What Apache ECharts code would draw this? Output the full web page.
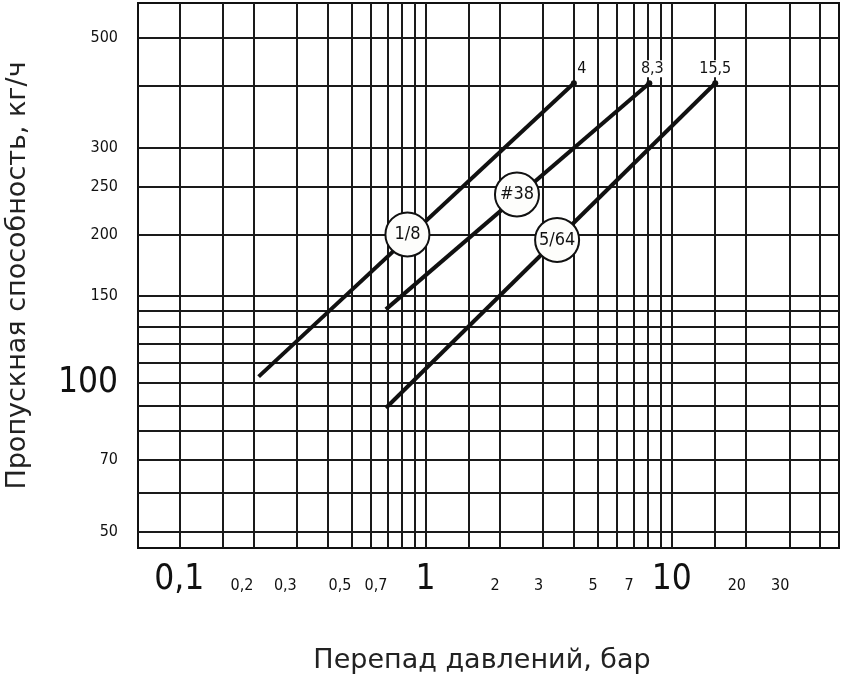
<!DOCTYPE html>
<html><head><meta charset="utf-8">
<script src="https://cdn.jsdelivr.net/npm/echarts@6/dist/echarts.min.js"></script>
<style>html,body{margin:0;padding:0;background:#fff}#c{width:841px;height:681px}</style>
</head><body><div id="c"></div><script>
// ---- data ----
const xGrid = [0.1,0.15,0.2,0.3,0.4,0.5,0.6,0.7,0.8,0.9,1,1.5,2,3,4,5,6,7,8,9,10,15,20,30,40];
const xLabelsBig = [0.1,1,10];
const xLabelsSmall = [0.2,0.3,0.5,0.7,2,3,5,7,20,30];
const yGrid = [50,60,70,80,90,100,110,120,130,140,150,200,250,300,400,500];
const yLabels = [50,70,100,150,200,250,300,500];
const yLabelsBig = [100];
const nozzleNames = ['1/8','#38','5/64'];
const nozzleX = [0.844,2.35,3.42];
const nozzleY = [200,241,195];
const maxDpLabels = ['4','8,3','15,5'];
const line18 = [[0.21,103],[4,405]];
const line38 = [[0.69,141],[8.1,405]];
const line564 = [[0.69,89],[15,405]];
const xTitle = 'Перепад давлений, бар';
const yTitle = 'Пропускная способность, кг/ч';

// ---- chart ----
const NARROW = "'Liberation Sans Narrow','Arial Narrow','DejaVu Sans Condensed',sans-serif";
const TITLEF = "'DejaVu Sans','Noto Sans',sans-serif";
const fmtNum = v => String(v).replace('.', ',');
const X_MIN = 0.068, X_MAX = 47.7, Y_MIN = 46.3, Y_MAX = 589;
const gridLine = {show: true, lineStyle: {color: '#1a1a1a', width: 2}};
const endDx = [8, 3, 0];
const lines = [line18, line38, line564];

const chart = echarts.init(document.getElementById('c'));
const option = {
  animation: false,
  backgroundColor: '#fff',
  grid: {left: 138, right: 2, top: 3, bottom: 133, show: true, borderColor: '#111', borderWidth: 2,
         backgroundColor: 'transparent', containLabel: false, outerBoundsMode: 'none'},
  xAxis: [
    {type: 'log', min: X_MIN, max: X_MAX, position: 'bottom',
     axisLine: {show: false}, axisTick: {show: false, customValues: xGrid},
     splitLine: gridLine, minorTick: {show: false}, minorSplitLine: {show: false},
     axisLabel: {customValues: xLabelsBig, formatter: fmtNum, fontSize: 35, fontFamily: NARROW, color: '#111', margin: 49, verticalAlign: 'bottom'},
     name: xTitle, nameLocation: 'middle', nameGap: 99,
     nameTextStyle: {fontSize: 27, fontFamily: TITLEF, color: '#222', padding: [0, 13, 0, 0]}},
    {type: 'log', min: X_MIN, max: X_MAX, position: 'bottom',
     axisLine: {show: false}, axisTick: {show: false}, splitLine: {show: false},
     axisLabel: {customValues: xLabelsSmall, formatter: fmtNum, fontSize: 16, fontFamily: NARROW, color: '#111', margin: 46, verticalAlign: 'bottom', align: 'right'}}
  ],
  yAxis: {type: 'log', min: Y_MIN, max: Y_MAX,
    axisLine: {show: false}, axisTick: {show: false, customValues: yGrid},
    splitLine: gridLine, minorSplitLine: {show: false},
    axisLabel: {customValues: yLabels, margin: 20,
      formatter: v => yLabelsBig.includes(v) ? '{b|' + v + '}' : '{s|' + v + '}',
      rich: {b: {fontSize: 35, fontFamily: NARROW, color: '#111'}, s: {fontSize: 16, fontFamily: NARROW, color: '#111'}}},
    name: yTitle, nameLocation: 'middle', nameGap: 107,
    nameTextStyle: {fontSize: 27, fontFamily: TITLEF, color: '#222'}},
  series: lines.map((pts, i) => ({
    type: 'line', xAxisIndex: 0, yAxisIndex: 0, z: 3, silent: true,
    symbol: 'circle', showSymbol: true,
    lineStyle: {color: '#111', width: 4}, itemStyle: {color: '#111'},
    data: pts.map((p, j) => j === pts.length - 1
      ? {value: p, symbolSize: 6, label: {show: true, position: 'top', distance: 3, offset: [endDx[i], 0],
          formatter: maxDpLabels[i], fontSize: 16, fontFamily: NARROW, color: '#111', backgroundColor: '#fff', padding: [1, 1, 0, 1]}}
      : {value: p, symbolSize: 0})
  })).concat([{
    type: 'scatter', xAxisIndex: 0, yAxisIndex: 0, z: 5, silent: true,
    symbol: 'circle', symbolSize: 44,
    itemStyle: {color: '#fdfdfb', borderColor: '#111', borderWidth: 2, opacity: 1},
    label: {show: true, position: 'inside', formatter: p => p.name, fontSize: 18, fontFamily: NARROW, color: '#111'},
    data: nozzleNames.map((n, i) => ({name: n, value: [nozzleX[i], nozzleY[i]]}))
  }])
};
chart.setOption(option);
</script></body></html>
